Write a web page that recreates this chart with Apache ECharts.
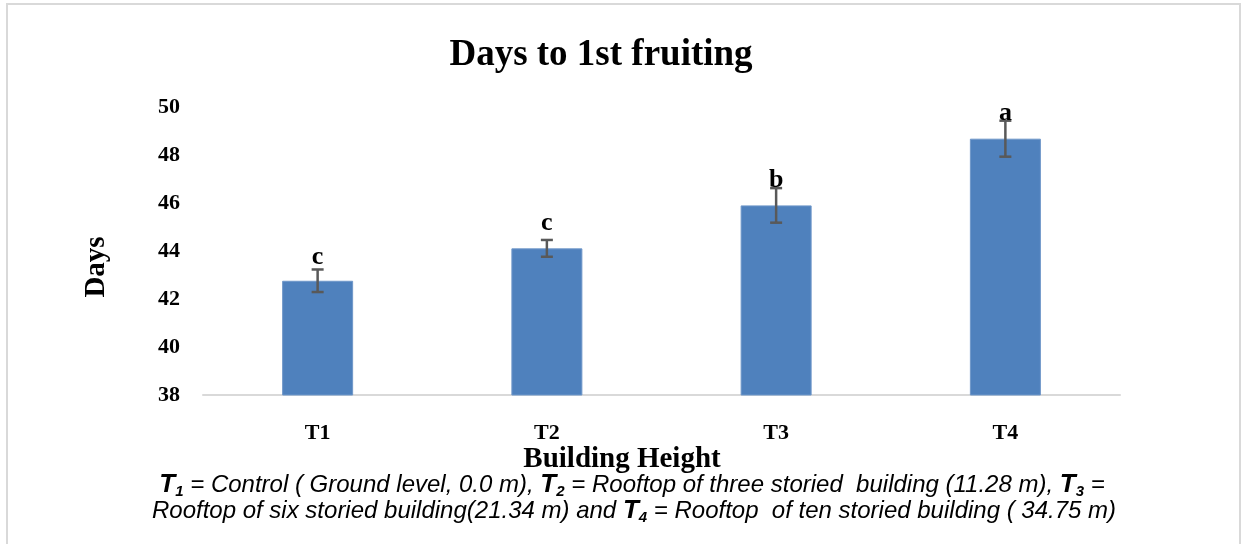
<!DOCTYPE html>
<html>
<head>
<meta charset="utf-8">
<script src="https://cdn.jsdelivr.net/npm/echarts@6/dist/echarts.min.js"></script>
<style>
  html, body { margin: 0; padding: 0; background: #fff; }
  #chart { width: 1246px; height: 544px; }
</style>
</head>
<body>
<div id="chart"></div>
<script>
// data
const categories = ['T1', 'T2', 'T3', 'T4']
const days = [42.76, 44.11, 45.9, 48.68]
const errors = [0.47, 0.35, 0.72, 0.75]
const letters = ['c', 'c', 'b', 'a']
const letterLevels = [43.75, 45.15, 46.95, 49.75]
const yTicks = [38, 40, 42, 44, 46, 48, 50]

const serif = '"Liberation Serif", "DejaVu Serif", serif'
const sans = '"Liberation Sans", Arial, sans-serif'

const chart = echarts.init(document.getElementById('chart'))

const errData = days.map((v, i) => [i, v - errors[i], v + errors[i]])
const letterData = letterLevels.map((v, i) => ({ value: [i, v], label: { formatter: letters[i] } }))

const noteRich = {
  b: { fontFamily: sans, fontStyle: 'italic', fontWeight: 'bold', fontSize: 26, fill: '#000', lineHeight: 28 },
  s: { fontFamily: sans, fontStyle: 'italic', fontWeight: 'bold', fontSize: 15, fill: '#000', verticalAlign: 'bottom', lineHeight: 28, padding: [10, 0, 0, 0] }
}

chart.setOption({
  backgroundColor: '#fff',
  animation: false,
  title: {
    text: 'Days to 1st fruiting',
    left: 596,
    top: 32,
    textAlign: 'center',
    textStyle: { fontFamily: serif, fontWeight: 'bold', fontSize: 37, color: '#000' }
  },
  grid: { left: 203, right: 126, top: 107, bottom: 149 },
  xAxis: {
    type: 'category',
    data: categories,
    axisLine: { lineStyle: { color: '#d9d9d9', width: 2 } },
    axisTick: { show: false },
    axisLabel: { fontFamily: serif, fontWeight: 'bold', fontSize: 22, color: '#000', margin: 27 }
  },
  yAxis: {
    type: 'value',
    min: yTicks[0],
    max: yTicks[yTicks.length - 1],
    interval: 2,
    axisLine: { show: false },
    axisTick: { show: false },
    splitLine: { show: false },
    axisLabel: { fontFamily: serif, fontWeight: 'bold', fontSize: 22, color: '#000', margin: 23 }
  },
  series: [
    {
      type: 'bar',
      data: days,
      barWidth: 71,
      itemStyle: { color: '#4f81bd', borderColor: '#6f97c9', borderWidth: 1 }
    },
    {
      type: 'custom',
      data: errData,
      z: 5,
      renderItem: function (params, api) {
        const x = api.value(0)
        const lo = api.coord([x, api.value(1)])
        const hi = api.coord([x, api.value(2)])
        const cap = 6
        const style = { stroke: '#595959', lineWidth: 2.5 }
        return {
          type: 'group',
          children: [
            { type: 'line', shape: { x1: lo[0], y1: lo[1], x2: hi[0], y2: hi[1] }, style },
            { type: 'line', shape: { x1: lo[0] - cap, y1: lo[1], x2: lo[0] + cap, y2: lo[1] }, style },
            { type: 'line', shape: { x1: hi[0] - cap, y1: hi[1], x2: hi[0] + cap, y2: hi[1] }, style }
          ]
        }
      }
    },
    {
      type: 'scatter',
      data: letterData,
      symbolSize: 0,
      z: 6,
      itemStyle: { opacity: 1 },
      label: {
        show: true,
        position: 'inside',
        fontFamily: serif,
        fontWeight: 'bold',
        fontSize: 26,
        color: '#000'
      }
    }
  ],
  graphic: [
    {
      type: 'rect',
      shape: { x: 7, y: 4, width: 1233, height: 600 },
      style: { fill: null, stroke: '#d9d9d9', lineWidth: 2 },
      silent: true
    },
    {
      type: 'text',
      x: 97,
      y: 267,
      rotation: Math.PI / 2,
      style: {
        text: 'Days',
        align: 'center',
        verticalAlign: 'middle',
        font: 'bold 29px ' + serif,
        fill: '#000'
      }
    },
    {
      type: 'text',
      x: 622,
      y: 460,
      style: {
        text: 'Building Height',
        align: 'center',
        verticalAlign: 'middle',
        font: 'bold 29px ' + serif,
        fill: '#000'
      }
    },
    {
      type: 'text',
      x: 632,
      y: 485,
      style: {
        text: '{b|T}{s|1} = Control ( Ground level, 0.0 m), {b|T}{s|2} = Rooftop of three storied  building (11.28 m), {b|T}{s|3} =',
        align: 'center',
        verticalAlign: 'middle',
        font: 'italic 24px ' + sans,
        fill: '#000',
        lineHeight: 28,
        rich: noteRich
      }
    },
    {
      type: 'text',
      x: 634,
      y: 511,
      style: {
        text: 'Rooftop of six storied building(21.34 m) and {b|T}{s|4} = Rooftop  of ten storied building ( 34.75 m)',
        align: 'center',
        verticalAlign: 'middle',
        font: 'italic 24px ' + sans,
        fill: '#000',
        lineHeight: 28,
        rich: noteRich
      }
    }
  ]
})
</script>
</body>
</html>
